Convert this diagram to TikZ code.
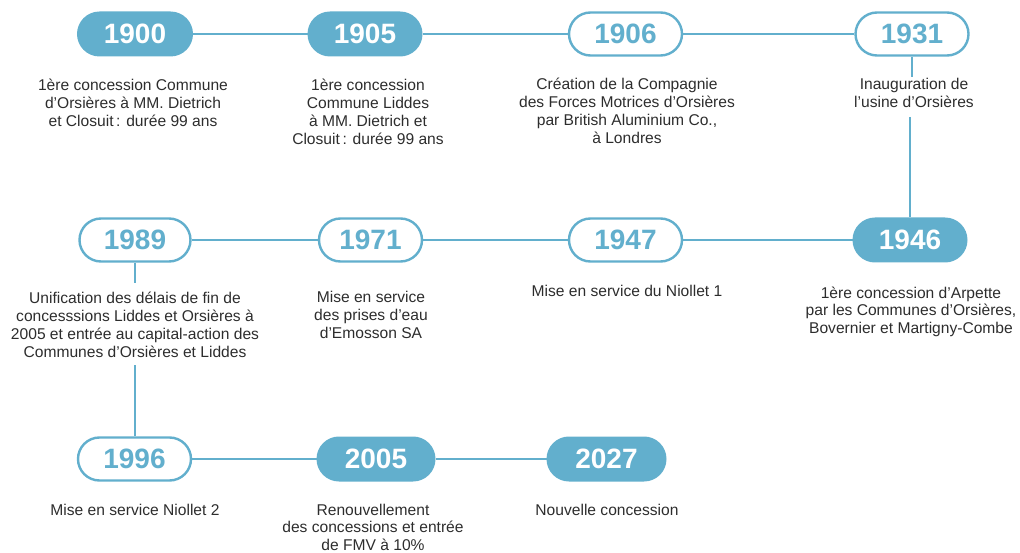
\documentclass[tikz,border=0pt]{standalone}
\usepackage{fontspec}
\setmainfont{Liberation Sans}
\definecolor{tl}{RGB}{98,175,205}
\definecolor{txt}{RGB}{45,45,45}
\tikzset{
  pill/.style={rounded corners=21.5pt, minimum height=43pt, inner sep=0pt,
    font=\fontsize{28}{30}\selectfont\bfseries},
  pillfill/.style={pill, fill=tl, draw=tl, line width=2pt, text=white},
  pillline/.style={pill, fill=white, draw=tl, line width=2.4pt, text=tl},
  desc/.style={align=center, anchor=base, inner sep=0pt, text=txt,
    font=\fontsize{15.6}{17.8}\selectfont},
  conn/.style={draw=tl, line width=2pt}
}
\begin{document}
\begin{tikzpicture}[x=1pt,y=-1pt]
\useasboundingbox (0,0) rectangle (1020,553);
% row 1
\node[pillfill, minimum width=114pt] (p1900) at (135,34) {1900};
\node[pillfill, minimum width=113pt] (p1905) at (365,34) {1905};
\node[pillline, minimum width=113pt] (p1906) at (625.5,34) {1906};
\node[pillline, minimum width=113pt] (p1931) at (912,34) {1931};
% row 2
\node[pillline, minimum width=111pt] (p1989) at (135,240) {1989};
\node[pillline, minimum width=103pt] (p1971) at (370.5,240) {1971};
\node[pillline, minimum width=113pt] (p1947) at (625.5,240) {1947};
\node[pillfill, minimum width=113pt] (p1946) at (910,240) {1946};
% row 3
\node[pillline, minimum width=113pt] (p1996) at (134.5,459) {1996};
\node[pillfill, minimum width=117pt] (p2005) at (376,459) {2005};
\node[pillfill, minimum width=118pt] (p2027) at (606.5,459) {2027};
% descriptions (anchor = baseline of last line)
\node[desc] (t1900) at (133,126.6) {1ère concession Commune\\d’Orsières à MM. Dietrich\\et Closuit\,: durée 99 ans};
\node[desc] (t1905) at (368,144.4) {1ère concession\\Commune Liddes\\à MM. Dietrich et\\Closuit\,: durée 99 ans};
\node[desc] (t1906) at (627,143.4) {Création de la Compagnie\\des Forces Motrices d’Orsières\\par British Aluminium Co.,\\à Londres};
\node[desc] (t1931) at (914,107.8) {Inauguration de\\l’usine d’Orsières};
\node[desc] (t1989) at (135,357) {Unification des délais de fin de\\concesssions Liddes et Orsières à\\2005 et entrée au capital-action des\\Communes d’Orsières et Liddes};
\node[desc] (t1971) at (371,338.6) {Mise en service\\des prises d’eau\\d’Emosson SA};
\node[desc] (t1947) at (627,297) {Mise en service du Niollet 1};
\node[desc] (t1946) at (911,333.6) {1ère concession d’Arpette\\par les Communes d’Orsières,\\Bovernier et Martigny-Combe};
\node[desc] (t1996) at (135,515) {Mise en service Niollet 2};
\node[desc] (t2005) at (373,550.6) {Renouvellement\\des concessions et entrée\\de FMV à 10\%};
\node[desc] (t2027) at (607,515) {Nouvelle concession};
% connectors
\draw[conn] (p1900) -- (p1905);
\draw[conn] (p1905) -- (p1906);
\draw[conn] (p1906) -- (p1931);
\draw[conn] (p1989) -- (p1971);
\draw[conn] (p1971) -- (p1947);
\draw[conn] (p1947) -- (p1946);
\draw[conn] (p1996) -- (p2005);
\draw[conn] (p2005) -- (p2027);
\draw[conn] (p1931.south) -- (p1931.south |- 0,77);
\draw[conn] (p1946.north |- 0,117) -- (p1946.north);
\draw[conn] (p1989.south) -- (p1989.south |- 0,283);
\draw[conn] (p1996.north |- 0,365) -- (p1996.north);
\end{tikzpicture}
\end{document}
